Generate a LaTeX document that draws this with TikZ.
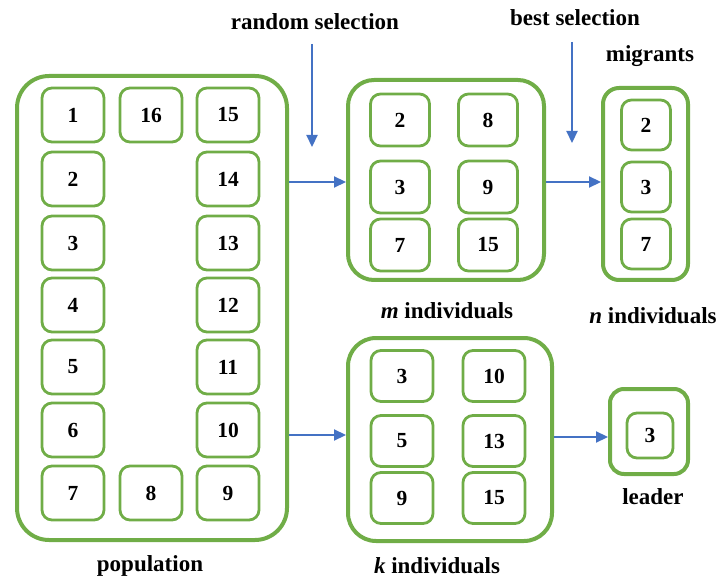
\documentclass[tikz,border=0pt]{standalone}
\usepackage{fontspec}
\setmainfont{Liberation Serif}
\usetikzlibrary{arrows.meta}
\definecolor{grn}{RGB}{112,173,71}
\definecolor{blu}{RGB}{68,114,196}
\tikzset{
  outerbox/.style={draw=grn, line width=4pt, rounded corners=#1, inner sep=0pt},
  cell/.style={draw=grn, line width=2.8pt, rounded corners=10pt, minimum width=62pt, minimum height=54pt, inner sep=0pt, font=\fontsize{21.5}{25}\selectfont\bfseries},
  lbl/.style={font=\fontsize{23}{27}\selectfont\bfseries, inner sep=0pt},
  arr/.style={draw=blu, line width=2.2pt, -{Triangle[length=12pt,width=11pt]}}
}
\begin{document}
\begin{tikzpicture}[x=1pt,y=-1pt]
\useasboundingbox (0,0) rectangle (718,580);
% population
\node[outerbox=32pt, minimum width=270pt, minimum height=464pt] (pop) at (152,308) {};
\foreach \n/\x/\y in {1/73/115, 16/151/115, 15/228/115,
  2/73/179, 14/228/179, 3/73/243, 13/228/243, 4/73/305, 12/228/305,
  5/73/367, 11/228/367, 6/73/430, 10/228/430, 7/73/493, 8/151/493, 9/228/493}
  \node[cell] (p\n) at (\x,\y) {\n};
\node[lbl] (poplbl) at (150,566) {population};
% m individuals
\node[outerbox=26pt, minimum width=196pt, minimum height=200pt] (mbox) at (446,180) {};
\foreach \n/\x/\y in {2/400/120, 8/488/120, 3/400/187, 9/488/187, 7/400/245, 15/488/245}
  \node[cell, minimum width=59pt, minimum height=52pt] (m\n) at (\x,\y) {\n};
\node[lbl] (mlbl) at (447,311) {\textit{m} individuals};
% migrants
\node[outerbox=16pt, minimum width=85pt, minimum height=192pt] (mig) at (645.5,184) {};
\foreach \n/\y in {2/125, 3/187, 7/244}
  \node[cell, minimum width=49pt, minimum height=50pt] (g\n) at (646,\y) {\n};
\node[lbl] (miglbl) at (650,56) {migrants};
\node[lbl] (nlbl) at (653,316) {\textit{n} individuals};
% k individuals
\node[outerbox=28pt, minimum width=204pt, minimum height=203pt] (kbox) at (450,439.5) {};
\foreach \n/\x/\y in {3/402/376, 10/494/376, 5/402/441, 13/494/441, 9/402/498, 15/494/498}
  \node[cell, minimum width=62pt, minimum height=51pt] (k\n) at (\x,\y) {\n};
\node[lbl] (klbl) at (437,566) {\textit{k} individuals};
% leader
\node[outerbox=14pt, minimum width=78pt, minimum height=85pt] (lead) at (649,431.5) {};
\node[cell, minimum width=46pt, minimum height=45pt] (l3) at (650,435.5) {3};
\node[lbl] (leadlbl) at (653,497) {leader};
% selection labels
\node[lbl] (rsel) at (315,22) {random selection};
\node[lbl] (bsel) at (575,18) {best selection};
\coordinate (rs1) at (312,44);
\coordinate (rs2) at (312,147);
\coordinate (bs1) at (572,42);
\coordinate (bs2) at (572,143);
\draw[arr] (rs1) -- (rs2);
\draw[arr] (bs1) -- (bs2);
% flow arrows
\draw[arr] (pop.east |- 0,182) -- (mbox.west |- 0,182);
\draw[arr] (mbox.east |- 0,182) -- (mig.west |- 0,182);
\draw[arr] (pop.east |- 0,435) -- (kbox.west |- 0,435);
\draw[arr] (kbox.east |- 0,437) -- (lead.west |- 0,437);
\end{tikzpicture}
\end{document}
